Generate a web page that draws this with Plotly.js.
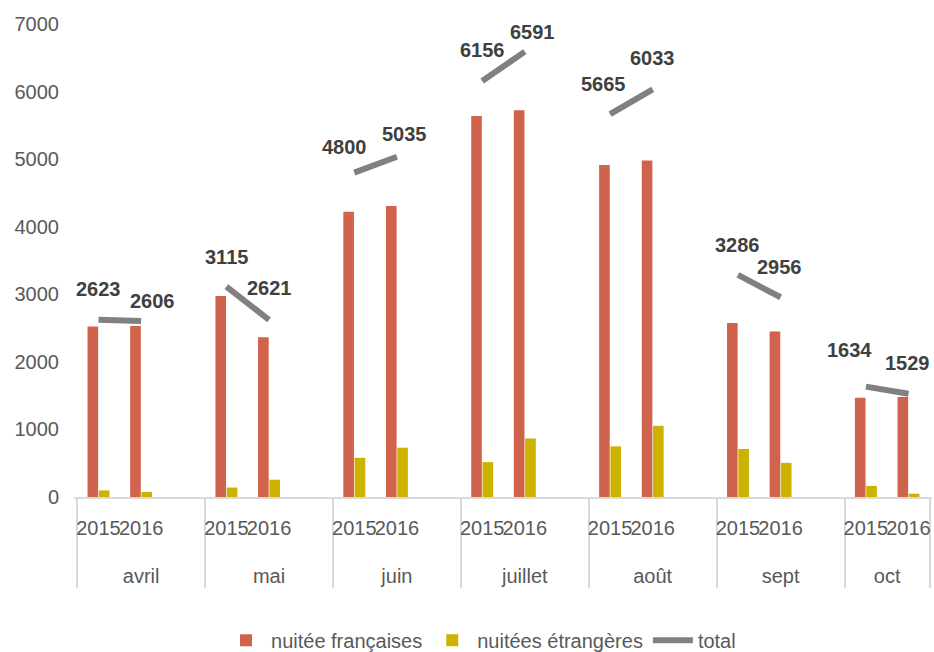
<!DOCTYPE html>
<html>
<head>
<meta charset="utf-8">
<script src="https://cdn.plot.ly/plotly-3.0.1.min.js"></script>
<style>html,body{margin:0;padding:0;background:#fff;}#chart{width:934px;height:652px;}</style>
</head>
<body>
<div id="chart"></div>
<script>
// ---- data ----
var months = ['avril', 'mai', 'juin', 'juillet', 'août', 'sept', 'oct'];
var years = ['2015', '2016'];
// values per month, 2015 then 2016
var nuiteesFrancaises = [2525, 2530, 2975, 2365, 4220, 4305, 5640, 5725, 4915, 4980, 2575, 2450, 1470, 1480];
var nuiteesEtrangeres = [98, 76, 140, 256, 580, 730, 516, 866, 750, 1053, 711, 506, 164, 49];
var totals = [2623, 2606, 3115, 2621, 4800, 5035, 6156, 6591, 5665, 6033, 3286, 2956, 1634, 1529];

// ---- label placement (pixels, layout only) ----
var labelShiftX = [0, 11, 0, 0, -10, 8, 0, 8, -7, 0, 0, -1, -16, -1];
var labelShiftY = [31, 20, 30, 32, 26, 23, 31, 20, 30, 31, 30, 30, 37, 31];

// year tick text gets an extra empty line so the month row sits lower
var yearLabel = function (yr) { return yr + '<br><span style="font-size:52px">\u00a0</span>'; };
var BLANK = '\u00a0';
var barX0 = [], barX1 = [];
var lineX0 = [], lineX1 = [], lineY = [];
var annX = [];
var k = 0, idx = 0;
months.forEach(function (m, i) {
  years.forEach(function (yr) {
    barX0.push(m); barX1.push(yearLabel(yr));
    lineX0.push(m); lineX1.push(yearLabel(yr)); lineY.push(totals[k]);
    annX.push(idx);
    k++; idx++;
  });
  if (i < months.length - 1) {
    lineX0.push(m); lineX1.push(BLANK); lineY.push(null);
    idx++;
  }
});

var font = 'Liberation Sans, Arial, sans-serif';
var txtColor = '#595959';

var traces = [
  {
    type: 'bar', name: 'nuitée françaises',
    x: [barX0, barX1], y: nuiteesFrancaises,
    marker: {color: '#D0634B'}
  },
  {
    type: 'bar', name: 'nuitées étrangères',
    x: [barX0, barX1], y: nuiteesEtrangeres,
    marker: {color: '#CCB300'}
  },
  {
    type: 'scatter', mode: 'lines', name: 'total',
    x: [lineX0, lineX1], y: lineY,
    connectgaps: false,
    line: {color: '#808080', width: 6}
  }
];

var annotations = annX.map(function (xv, i) {
  return {
    x: xv, y: totals[i], xref: 'x', yref: 'y',
    text: String(totals[i]), showarrow: false,
    xshift: labelShiftX[i], yshift: labelShiftY[i],
    font: {family: font, size: 20, color: '#404040', weight: 'bold'}
  };
});

var layout = {
  width: 934, height: 652,
  margin: {l: 74, r: 2, t: 24, b: 155},
  paper_bgcolor: '#ffffff', plot_bgcolor: '#ffffff',
  font: {family: font, size: 20, color: txtColor},
  barmode: 'group', bargap: 0.47, bargroupgap: 0.06,
  showlegend: true,
  legend: {
    orientation: 'h', xref: 'container', yref: 'container',
    x: 0.515, xanchor: 'center', y: 0.018, yanchor: 'middle',
    font: {family: font, size: 20, color: txtColor},
    itemwidth: 40, traceorder: 'normal'
  },
  xaxis: {
    type: 'multicategory', automargin: false,
    showline: true, linecolor: '#d9d9d9', linewidth: 2,
    showdividers: true, dividercolor: '#d9d9d9', dividerwidth: 2,
    showgrid: false, ticks: '', tickangle: 0,
    ticklabelstandoff: 12,
    tickfont: {family: font, size: 20, color: txtColor}
  },
  yaxis: {
    range: [0, 7000], dtick: 1000, tick0: 0, automargin: false,
    showgrid: false, zeroline: false, showline: false, ticks: '',
    ticklabelstandoff: 14,
    tickfont: {family: font, size: 20, color: txtColor}
  },
  annotations: annotations
};

Plotly.newPlot('chart', traces, layout, {staticPlot: true, displayModeBar: false});
</script>
</body>
</html>
